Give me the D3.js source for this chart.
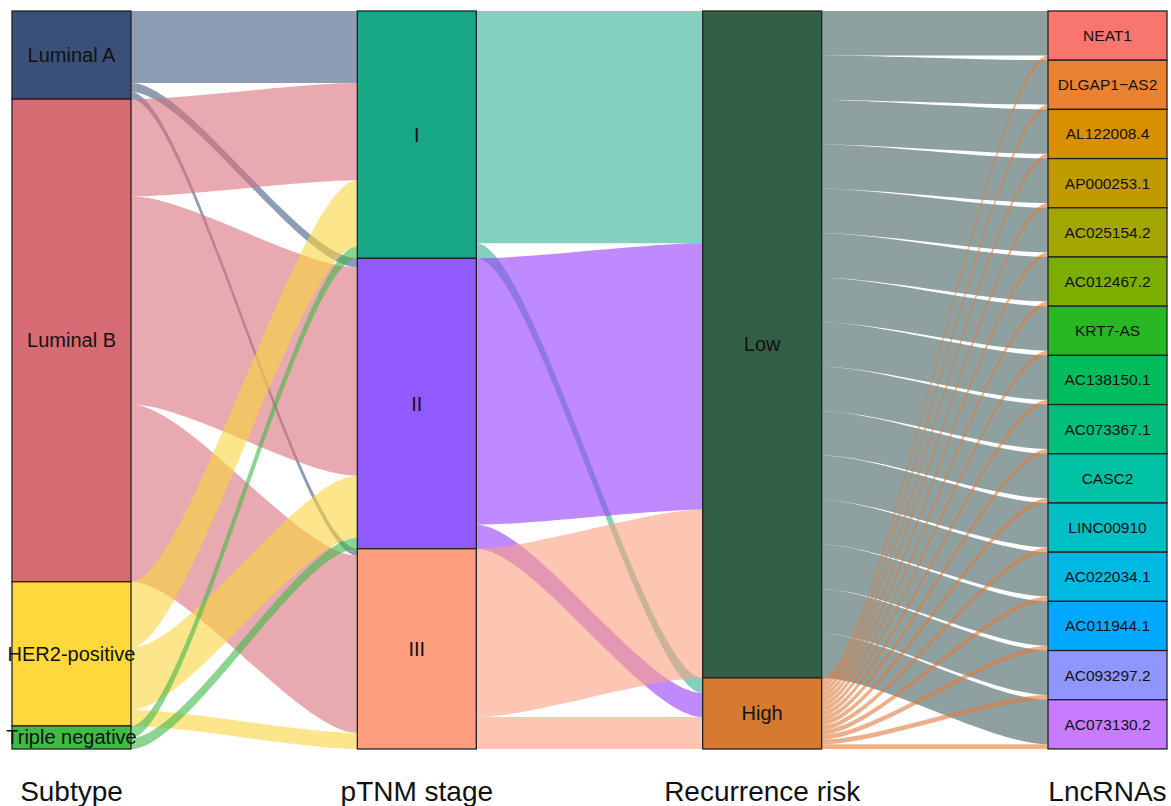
<!DOCTYPE html>
<html>
<head>
<meta charset="utf-8">
<script src="https://cdn.jsdelivr.net/npm/d3@7"></script>
<style>
  body { margin: 0; background: #fff; }
  text { font-family: "Liberation Sans", Arial, Helvetica, sans-serif; fill: #111; }
</style>
</head>
<body>
<svg id="chart" width="1171" height="806"></svg>
<script>
// ---- data -------------------------------------------------------------
const axisTitles = ["Subtype", "pTNM stage", "Recurrence risk", "LncRNAs"];

const subtypes = ["Luminal A", "Luminal B", "HER2-positive", "Triple negative"];
const stages   = ["I", "II", "III"];
const risks    = ["Low", "High"];
const lncRNAs  = ["NEAT1", "DLGAP1\u2212AS2", "AL122008.4", "AP000253.1", "AC025154.2",
                  "AC012467.2", "KRT7-AS", "AC138150.1", "AC073367.1", "CASC2",
                  "LINC00910", "AC022034.1", "AC011944.1", "AC093297.2", "AC073130.2"];

// flow weights, rows = stratum on the left axis, columns = stratum on the right axis
const subtypeToStage = [
  [72, 9, 7],      // Luminal A -> I, II, III
  [97, 208, 177],  // Luminal B
  [66, 62, 16],    // HER2-positive
  [12, 11, 0]      // Triple negative
];
const stageToRisk = [
  [232, 15],       // I -> Low, High
  [266, 24],       // II
  [168, 32]        // III
];
const lowToLnc  = [44.4, 44.4, 44.4, 44.4, 44.4, 44.4, 44.4, 44.4, 44.4, 44.4, 44.4, 44.4, 44.4, 44.4, 44.4];
const highToLnc = [4.73, 4.73, 4.73, 4.73, 4.73, 4.73, 4.73, 4.73, 4.73, 4.73, 4.73, 4.73, 4.73, 4.73, 4.73];

// ---- colours ----------------------------------------------------------
const subtypeFill = ["#3A5079", "#D66B74", "#FFD83C", "#3DBB45"];
const subtypeFlow = ["#445C82", "#D9717B", "#FAD43C", "#3FB946"];
const stageFill   = ["#19A886", "#905AFF", "#FE9E7F"];
const stageFlow   = ["#32B194", "#963CFF", "#FCA07F"];
const riskFill    = ["#335F47", "#D67A31"];
const riskFlow    = ["#446161", "#DE7B3C"];
const lncFill     = ["#F8766D", "#EA8331", "#D89000", "#C09B00", "#A3A500",
                     "#7CAE00", "#28B824", "#00BC5C", "#00BF7D", "#00C1A3",
                     "#00BFC4", "#00B9E3", "#00A9FF", "#8F96FF", "#C77CFF"];

// ---- layout -----------------------------------------------------------
const svg = d3.select("#chart");
const boxW = 119;
const knot = 0.25;   // relative position of the curve's control points

const x = d3.scalePoint().domain(axisTitles).range([71.5, 1107.5]);

const linkTables = [subtypeToStage, stageToRisk, [lowToLnc, highToLnc]];
const names = [subtypes, stages, risks, lncRNAs];
const fills = [subtypeFill, stageFill, riskFill, lncFill];
const flowFills = [subtypeFlow, stageFlow, riskFlow];

// stratum sizes: outgoing sums for the first axis, incoming sums elsewhere
function stratumSizes(a) {
  if (a === 0) return linkTables[0].map(r => d3.sum(r));
  const m = linkTables[a - 1];
  return names[a].map((_, j) => d3.sum(m, r => r[j]));
}
const sizes = names.map((_, a) => stratumSizes(a));
const total = d3.max(sizes, s => d3.sum(s));
const y = d3.scaleLinear().domain([0, total]).range([11, 749]);

// cumulative starts of each stratum
const starts = sizes.map(s => { let c = 0; return s.map(v => { const st = c; c += v; return st; }); });

// ---- flows ------------------------------------------------------------
const gFlows = svg.append("g");
linkTables.forEach((m, a) => {
  const x0 = x(axisTitles[a]) + boxW / 2;
  const x1 = x(axisTitles[a + 1]) - boxW / 2;
  const c0 = x0 + (x1 - x0) * knot;
  const c1 = x1 - (x1 - x0) * knot;
  const srcOff = starts[a].slice();
  const tgtOff = starts[a + 1].slice();
  // offsets inside target strata are ordered by source
  const tgtPos = m.map(() => []);
  names[a + 1].forEach((_, j) => {
    m.forEach((row, i) => { tgtPos[i][j] = tgtOff[j]; tgtOff[j] += row[j]; });
  });
  const flows = [];
  m.forEach((row, i) => {
    row.forEach((v, j) => {
      if (v <= 0) { return; }
      flows.push({ i, j, v, s: srcOff[i], t: tgtPos[i][j] });
      srcOff[i] += v;
    });
  });
  gFlows.selectAll(null).data(flows).join("path")
    .attr("d", f => {
      const a0 = y(f.s), b0 = y(f.s + f.v), a1 = y(f.t), b1 = y(f.t + f.v);
      return `M${x0},${a0}C${c0},${a0} ${c1},${a1} ${x1},${a1}` +
             `L${x1},${b1}C${c1},${b1} ${c0},${b0} ${x0},${b0}Z`;
    })
    .attr("fill", f => flowFills[a][f.i])
    .attr("fill-opacity", 0.6);
});

// ---- strata -----------------------------------------------------------
const gStrata = svg.append("g");
names.forEach((list, a) => {
  const cx = x(axisTitles[a]);
  const data = list.map((n, k) => ({ n, k, s: starts[a][k], v: sizes[a][k] }));
  const g = gStrata.append("g");
  g.selectAll("rect").data(data).join("rect")
    .attr("x", cx - boxW / 2)
    .attr("y", d => y(d.s))
    .attr("width", boxW)
    .attr("height", d => y(d.s + d.v) - y(d.s))
    .attr("fill", d => fills[a][d.k])
    .attr("stroke", "#222")
    .attr("stroke-width", 1.3);
  g.selectAll("text").data(data).join("text")
    .attr("x", cx)
    .attr("y", d => (y(d.s) + y(d.s + d.v)) / 2)
    .attr("text-anchor", "middle")
    .attr("dominant-baseline", "central")
    .attr("font-size", a === 3 ? 15.5 : 20)
    .text(d => d.n);
});

// ---- axis titles ------------------------------------------------------
svg.append("g").selectAll("text").data(axisTitles).join("text")
  .attr("x", d => x(d))
  .attr("y", 801)
  .attr("text-anchor", "middle")
  .attr("font-size", 28)
  .text(d => d);
</script>
</body>
</html>
